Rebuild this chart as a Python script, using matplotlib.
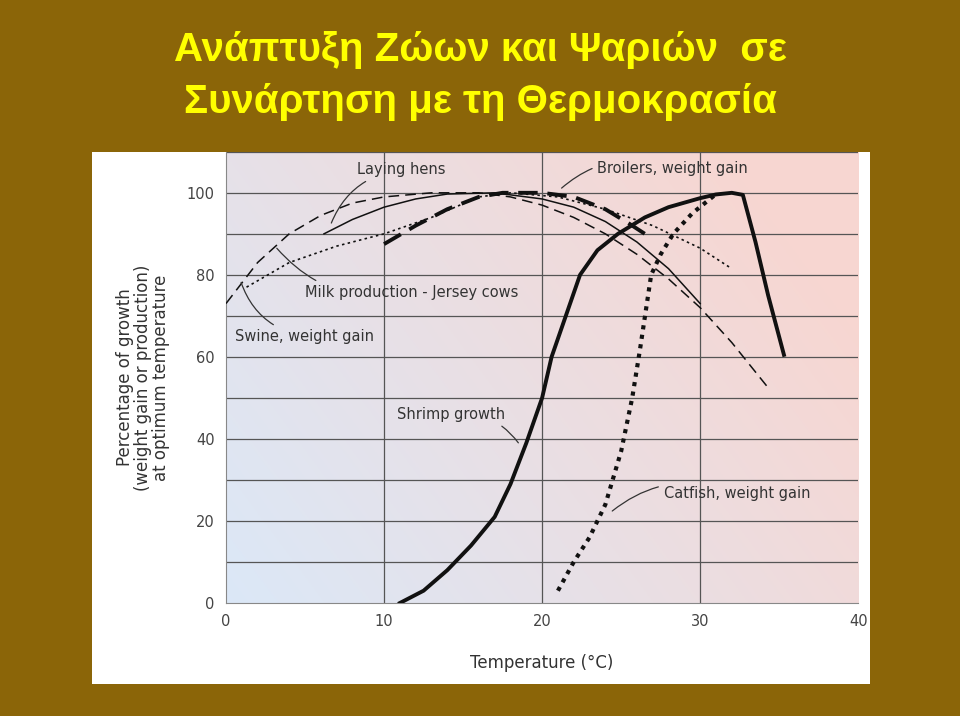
import numpy as np
import matplotlib
matplotlib.use("Agg")
import matplotlib.pyplot as plt
from matplotlib.patches import Rectangle

milk_x = [0, 2, 4, 6, 8, 10, 13, 16, 18, 20, 22, 24, 26, 28, 30, 32, 34.4]
milk_y = [73, 83, 90, 94.5, 97.5, 99, 100, 100, 99, 97, 94, 90, 85, 79, 72, 63.5, 52]
hens_x = [6.2, 8, 10, 12, 14, 17, 20, 22, 24, 26, 28, 30]
hens_y = [90, 93.5, 96.5, 98.5, 99.7, 100, 98.5, 96.5, 93, 88, 81.5, 73]
swine_x = [1.3, 4, 7, 10, 13, 16, 18, 21, 24, 27, 30, 32]
swine_y = [77, 83, 87, 90, 94, 99, 100, 99, 96, 92, 86.5, 81.5]
broil_x = [10, 12, 14, 16, 17.5, 20, 22, 24, 25.5, 26.5]
broil_y = [87.5, 92, 96, 99, 100, 100, 99, 96, 92.5, 90]
shrimp_x = [11, 12.5, 14, 15.5, 17, 18, 19, 20, 20.6, 21.5, 22.4, 23.5, 24.8, 26.5, 28, 30, 31, 32, 32.7, 33.5, 34.3, 35.3]
shrimp_y = [0, 3, 8, 14, 21, 29, 39, 50, 60, 70, 80, 86, 90, 94, 96.5, 98.7, 99.6, 100, 99.5, 88, 75, 60.5]
cat_x = [21, 22, 23, 24, 25, 25.7, 26.2, 26.9, 27.5, 28.3, 29.5, 31.1]
cat_y = [3, 10, 16, 24, 37, 50, 62, 80, 85, 90, 95, 100]

x_ticks = [0, 10, 20, 30, 40]
y_ticks = [0, 20, 40, 60, 80, 100]

fig = plt.figure(figsize=(9.6, 7.16), dpi=100)
fig.patch.set_facecolor('#8B6508')
fig.add_artist(Rectangle((0.0958, 0.0447), 0.81, 0.7433, transform=fig.transFigure,
                         facecolor='white', edgecolor='none', zorder=0))
fig.text(0.5, 0.93, "Ανάπτυξη Ζώων και Ψαριών  σε", ha='center', va='center',
         fontsize=29, fontweight='bold', color='#FFFF00', family='Liberation Sans')
fig.text(0.5, 0.858, "Συνάρτηση με τη Θερμοκρασία", ha='center', va='center',
         fontsize=29, fontweight='bold', color='#FFFF00', family='Liberation Sans')

ax = fig.add_axes([0.2354, 0.1578, 0.6586, 0.6302])
# gradient background
g = np.linspace(0, 1, 200)
X, Y = np.meshgrid(g, g)
t = np.clip(0.75 * X + 0.4 * (1 - Y), 0, 1)
c0 = np.array([0.86, 0.91, 0.97]); c1 = np.array([0.97, 0.84, 0.82])
img = c0[None, None, :] * (1 - t[..., None]) + c1[None, None, :] * t[..., None]
ax.imshow(img, extent=[0, 40, 0, 110], origin='upper', aspect='auto', zorder=0)
ax.set_xlim(0, 40); ax.set_ylim(0, 110)
for v in range(10, 111, 10):
    ax.axhline(v, color='#555555', lw=0.9, zorder=1)
for v in [10, 20, 30]:
    ax.axvline(v, color='#555555', lw=0.9, zorder=1)
for s in ['top', 'right']:
    ax.spines[s].set_visible(False)
for s in ['left', 'bottom']:
    ax.spines[s].set_color('#888888')
ax.set_xticks(x_ticks); ax.set_yticks(y_ticks)
ax.tick_params(length=0, labelsize=10.5, colors='#444444', pad=8)

k = '#111111'
ax.plot(milk_x, milk_y, color=k, lw=1.1, ls=(0, (7, 4)), zorder=3)
ax.plot(hens_x, hens_y, color=k, lw=1.1, zorder=3)
ax.plot(swine_x, swine_y, color=k, lw=1.2, ls=(0, (1.5, 2)), zorder=3)
ax.plot(broil_x, broil_y, color=k, lw=2.8, ls=(0, (5, 2.5)), zorder=3)
ax.plot(shrimp_x, shrimp_y, color=k, lw=2.8, zorder=3)
ax.plot(cat_x, cat_y, color=k, lw=3, ls=(0, (1, 1.3)), zorder=3)

tc = '#333333'
def lab(txt, tx, ty, px, py, rad):
    ax.annotate(txt, xy=(px, py), xytext=(tx, ty), fontsize=10.5, color=tc,
                ha='left', va='center', zorder=4,
                arrowprops=dict(arrowstyle='-', color='#333333', lw=0.9,
                                connectionstyle='arc3,rad=%s' % rad))
lab("Laying hens", 8.3, 105.6, 6.6, 92, 0.3)
lab("Broilers, weight gain", 23.5, 106, 21.1, 100.7, 0.3)
lab("Milk production - Jersey cows", 5.0, 75.8, 3.1, 87, -0.3)
lab("Swine, weight gain", 0.6, 65, 0.9, 78.8, -0.3)
lab("Shrimp growth", 10.8, 46, 18.6, 38.5, -0.3)
lab("Catfish, weight gain", 27.7, 26.6, 24.3, 22, 0.3)

ax.set_xlabel("Temperature (°C)", fontsize=12, color=tc, labelpad=18)
ax.set_ylabel("Percentage of growth\n(weight gain or production)\nat optimum temperature",
              fontsize=12, color=tc, labelpad=12, linespacing=1.0)
fig.savefig("out.png", dpi=100, facecolor=fig.get_facecolor())
